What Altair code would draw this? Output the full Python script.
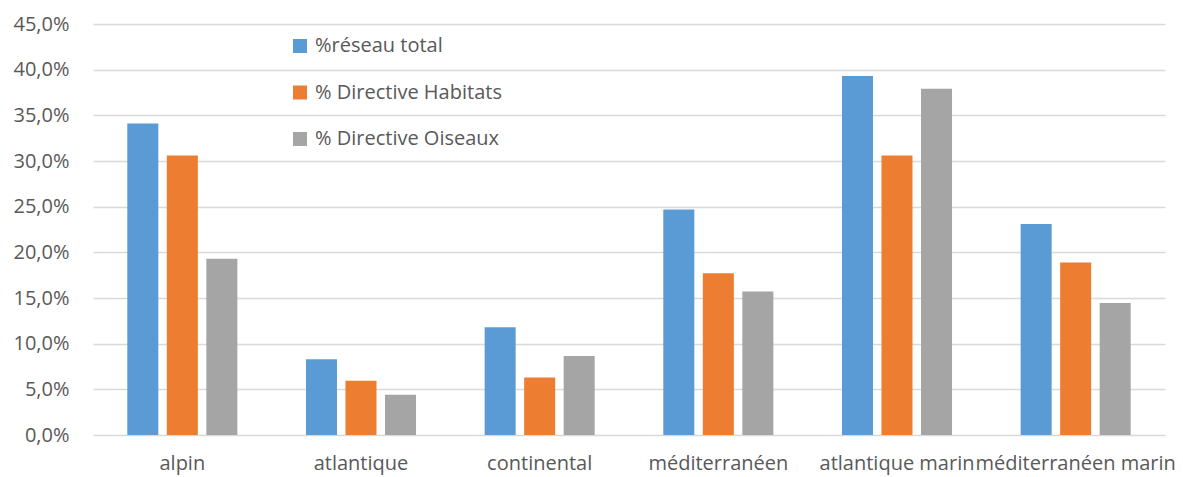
import altair as alt
import pandas as pd

categories = ["alpin", "atlantique", "continental", "méditerranéen", "atlantique marin", "méditerranéen marin"]
series = ["%réseau total", "% Directive Habitats", "% Directive Oiseaux"]
reseau_total = [34.1, 8.3, 11.8, 24.7, 39.3, 23.1]
directive_habitats = [30.6, 5.95, 6.3, 17.7, 30.6, 18.9]
directive_oiseaux = [19.3, 4.4, 8.65, 15.7, 37.9, 14.45]
colors = ["#5B9BD5", "#ED7D31", "#A5A5A5"]
y_ticks = [0, 5, 10, 15, 20, 25, 30, 35, 40, 45]

rows = []
for name, vals in zip(series, [reseau_total, directive_habitats, directive_oiseaux]):
    for c, v in zip(categories, vals):
        rows.append({"cat": c, "serie": name, "val": v})
df = pd.DataFrame(rows)

FONT = "Open Sans"
TXT = "#595959"

chart = alt.Chart(df).mark_bar().encode(
    x=alt.X("cat:N", sort=categories, title=None,
            scale=alt.Scale(paddingInner=0.384, paddingOuter=0.192),
            axis=alt.Axis(labelAngle=0, domain=False, ticks=False, labelPadding=18,
                          labelOverlap=False, labelBound=False, labelLimit=0,
                          labelFont=FONT, labelFontSize=20, labelColor=TXT)),
    xOffset=alt.XOffset("serie:N", sort=series,
                        scale=alt.Scale(paddingInner=0.215, paddingOuter=0)),
    y=alt.Y("val:Q", title=None,
            scale=alt.Scale(domain=[0, 45], nice=False),
            axis=alt.Axis(values=y_ticks, domain=False, ticks=False, labelPadding=24,
                          labelExpr="replace(format(datum.value, '.1f'), '.', ',') + '%'",
                          gridColor="#D9D9D9", gridWidth=1.5,
                          labelFont=FONT, labelFontSize=20, labelColor=TXT)),
    color=alt.Color("serie:N", sort=series,
                    scale=alt.Scale(domain=series, range=colors),
                    legend=alt.Legend(title=None, orient="none", legendX=197, legendY=12,
                                      symbolType="square", symbolSize=196, symbolStrokeWidth=0,
                                      labelFont=FONT, labelFontSize=20, labelColor=TXT,
                                      labelLimit=0, labelOffset=5, rowPadding=26.5, padding=0)),
).properties(
    width=1072, height=411,
    autosize=alt.AutoSizeParams(type="none"),
    padding={"left": 85, "top": 16, "right": 10, "bottom": 40},
).configure_view(stroke=None)

chart.save("out.html", embed_options={"renderer": "svg", "actions": False})
